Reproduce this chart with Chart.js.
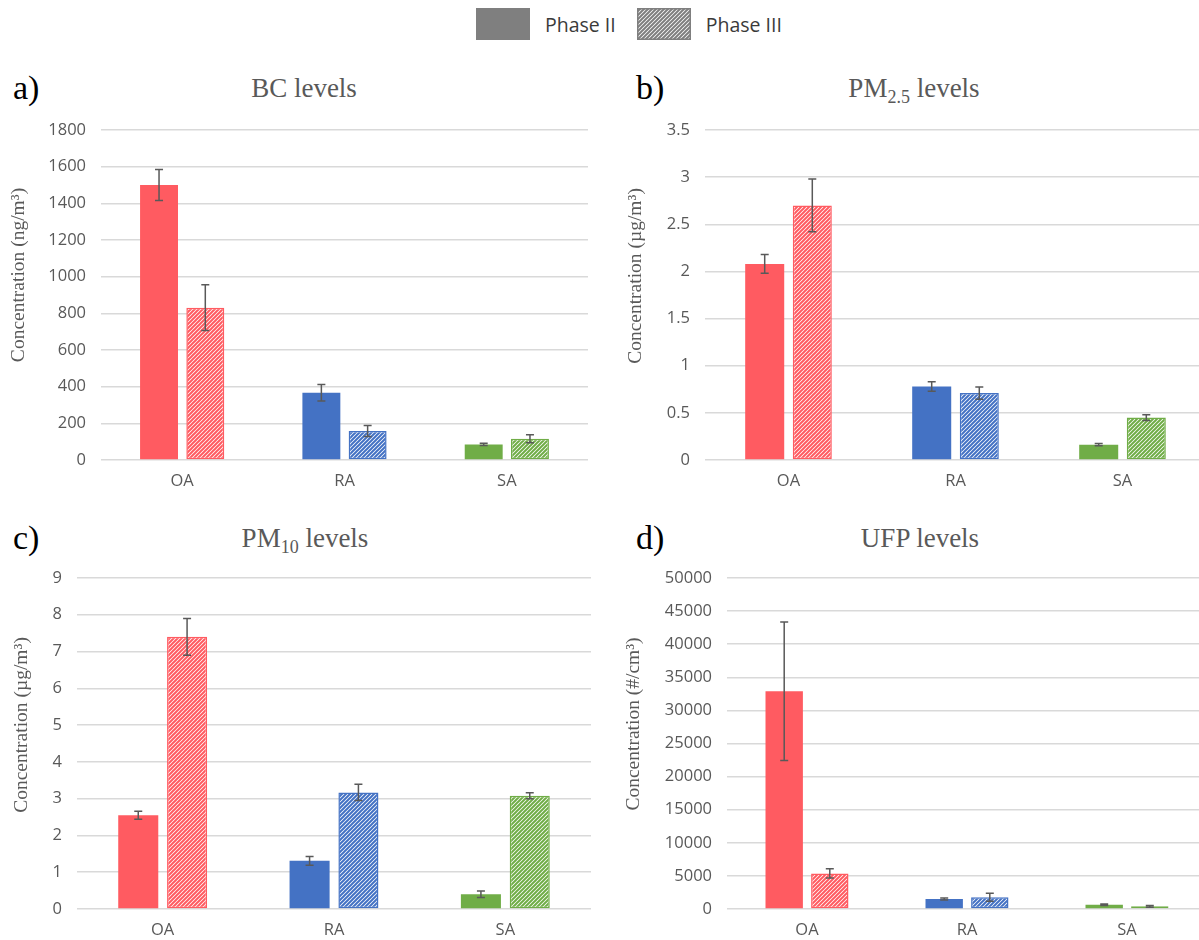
<!DOCTYPE html>
<html>
<head>
<meta charset="utf-8">
<script src="https://cdn.jsdelivr.net/npm/chart.js@4"></script>
<style>
  html, body { margin: 0; padding: 0; background: #fff; }
  body { width: 1199px; height: 940px; position: relative; overflow: hidden; }
  canvas.panel { position: absolute; }
  .title { position: absolute; transform: translateX(-50%); font: 27px "Liberation Serif", serif; color: #595959; line-height: 32px; white-space: nowrap; }
  .title sub { font-size: 18px; vertical-align: -6px; line-height: 0; }
  .tag { position: absolute; font: 34px "Liberation Serif", serif; color: #000; line-height: 40px; }
  .legend { position: absolute; top: 8px; left: 476px; display: flex; align-items: center; font: 19.5px "Open Sans", sans-serif; color: #3a3a3a; }
  .legend span { margin: 0 21px 0 15px; }
</style>
</head>
<body>
<div class="legend">
  <canvas id="sw2" width="54" height="32"></canvas><span>Phase II</span>
  <canvas id="sw3" width="54" height="32"></canvas><span>Phase III</span>
</div>

<div class="tag" style="left:13px;top:68px">a)</div>
<div class="tag" style="left:636px;top:68px">b)</div>
<div class="tag" style="left:13px;top:518px">c)</div>
<div class="tag" style="left:636px;top:518px">d)</div>

<div class="title" style="left:304px;top:72px">BC levels</div>
<div class="title" style="left:914px;top:72px">PM<sub>2.5</sub> levels</div>
<div class="title" style="left:305px;top:522px">PM<sub>10</sub> levels</div>
<div class="title" style="left:920px;top:522px">UFP levels</div>

<canvas class="panel" id="bc" width="600" height="440" style="left:0;top:60px"></canvas>
<canvas class="panel" id="pm25" width="610" height="440" style="left:600px;top:60px"></canvas>
<canvas class="panel" id="pm10" width="600" height="440" style="left:0;top:500px"></canvas>
<canvas class="panel" id="ufp" width="610" height="440" style="left:600px;top:500px"></canvas>

<script>
const sites = ['OA', 'RA', 'SA']
const siteColors = ['#FF5B61', '#4472C4', '#70AD47']

// BC (ng/m3)
const bcPhase2 = [1500, 367, 85]
const bcPhase2Err = [85, 45, 6]
const bcPhase3 = [831, 158, 116]
const bcPhase3Err = [125, 30, 22]
const bcAxis = [0, 1800, 200]

// PM2.5 (ug/m3)
const pm25Phase2 = [2.08, 0.78, 0.163]
const pm25Phase2Err = [0.1, 0.05, 0.012]
const pm25Phase3 = [2.70, 0.71, 0.45]
const pm25Phase3Err = [0.28, 0.065, 0.03]
const pm25Axis = [0, 3.5, 0.5]

// PM10 (ug/m3)
const pm10Phase2 = [2.55, 1.31, 0.40]
const pm10Phase2Err = [0.11, 0.12, 0.09]
const pm10Phase3 = [7.40, 3.17, 3.08]
const pm10Phase3Err = [0.5, 0.22, 0.08]
const pm10Axis = [0, 9, 1]

// UFP (#/cm3)
const ufpPhase2 = [32900, 1510, 650]
const ufpPhase2Err = [10450, 150, 120]
const ufpPhase3 = [5380, 1770, 400]
const ufpPhase3Err = [700, 600, 120]
const ufpAxis = [0, 50000, 5000]

function hatch(color) {
  const s = 4
  const c = document.createElement('canvas')
  c.width = s
  c.height = s
  const g = c.getContext('2d')
  g.fillStyle = '#fff'
  g.fillRect(0, 0, s, s)
  g.strokeStyle = color
  g.lineWidth = 2
  g.beginPath()
  g.moveTo(0, s); g.lineTo(s, 0)
  g.moveTo(-1, 1); g.lineTo(1, -1)
  g.moveTo(s - 1, s + 1); g.lineTo(s + 1, s - 1)
  g.stroke()
  return g.createPattern(c, 'repeat')
}

// legend swatches
const sw2 = document.getElementById('sw2').getContext('2d')
sw2.fillStyle = '#7F7F7F'
sw2.fillRect(0, 0, 54, 32)
const sw3 = document.getElementById('sw3').getContext('2d')
sw3.fillStyle = hatch('#7F7F7F')
sw3.fillRect(0, 0, 54, 32)
sw3.strokeStyle = '#7F7F7F'
sw3.lineWidth = 1.5
sw3.strokeRect(0.75, 0.75, 52.5, 30.5)

const errorBars = {
  id: 'errorBars',
  afterDatasetsDraw(chart) {
    const ctx = chart.ctx
    const y = chart.scales.y
    ctx.save()
    ctx.strokeStyle = '#595959'
    ctx.lineWidth = 1.5
    chart.data.datasets.forEach((ds, i) => {
      chart.getDatasetMeta(i).data.forEach((bar, j) => {
        const v = ds.data[j], e = ds.errors[j]
        const top = y.getPixelForValue(v + e)
        const bot = y.getPixelForValue(Math.max(v - e, 0))
        ctx.beginPath()
        ctx.moveTo(bar.x, top); ctx.lineTo(bar.x, bot)
        ctx.moveTo(bar.x - 4, top); ctx.lineTo(bar.x + 4, top)
        ctx.moveTo(bar.x - 4, bot); ctx.lineTo(bar.x + 4, bot)
        ctx.stroke()
      })
    })
    ctx.restore()
  }
}

const sideTitle = {
  id: 'sideTitle',
  afterDraw(chart, args, opts) {
    const ctx = chart.ctx
    ctx.save()
    ctx.translate(opts.x, opts.y)
    ctx.rotate(-Math.PI / 2)
    ctx.font = '19.5px "Liberation Serif"'
    ctx.fillStyle = '#595959'
    ctx.textAlign = 'center'
    ctx.textBaseline = 'middle'
    ctx.fillText(opts.text, 0, 0)
    ctx.restore()
  }
}

const tickFont = { family: 'Open Sans', size: 16.5 }

function panel(id, phase2, err2, phase3, err3, axis, unit, box) {
  new Chart(document.getElementById(id), {
    type: 'bar',
    data: {
      labels: sites,
      datasets: [{
        label: 'Phase II',
        data: phase2,
        errors: err2,
        backgroundColor: siteColors,
        borderWidth: 0,
        categoryPercentage: 0.57,
        barPercentage: 0.82
      }, {
        label: 'Phase III',
        data: phase3,
        errors: err3,
        backgroundColor: siteColors.map(hatch),
        borderColor: siteColors,
        borderWidth: 1.5,
        borderSkipped: false,
        categoryPercentage: 0.57,
        barPercentage: 0.82
      }]
    },
    options: {
      responsive: false,
      animation: false,
      layout: { padding: { top: box.top, right: box.right, left: 0, bottom: 0 } },
      plugins: {
        legend: { display: false },
        tooltip: { enabled: false },
        sideTitle: { text: 'Concentration (' + unit + ')', x: box.tx, y: box.ty }
      },
      scales: {
        x: {
          grid: { display: false, drawTicks: false },
          border: { display: false },
          ticks: { padding: 11, color: '#595959', font: tickFont },
          afterFit: s => { s.height = box.xh }
        },
        y: {
          min: axis[0],
          max: axis[1],
          ticks: {
            stepSize: axis[2],
            padding: 15,
            color: '#595959',
            font: tickFont,
            callback: v => String(Math.round(v * 100) / 100)
          },
          grid: { color: '#d9d9d9', lineWidth: 1.5, drawTicks: false },
          border: { display: false },
          afterFit: s => { s.width = box.yw }
        }
      }
    },
    plugins: [errorBars, sideTitle]
  })
}

panel('bc', bcPhase2, bcPhase2Err, bcPhase3, bcPhase3Err, bcAxis, 'ng/m³',
  { top: 70, right: 12, yw: 101, xh: 40, tx: 19, ty: 215 })
panel('pm25', pm25Phase2, pm25Phase2Err, pm25Phase3, pm25Phase3Err, pm25Axis, 'µg/m³',
  { top: 70, right: 4, yw: 105, xh: 40, tx: 36, ty: 216 })
panel('pm10', pm10Phase2, pm10Phase2Err, pm10Phase3, pm10Phase3Err, pm10Axis, 'µg/m³',
  { top: 78, right: 9, yw: 77, xh: 31, tx: 22, ty: 225 })
panel('ufp', ufpPhase2, ufpPhase2Err, ufpPhase3, ufpPhase3Err, ufpAxis, '#/cm³',
  { top: 78, right: 3, yw: 127, xh: 31, tx: 34, ty: 224 })
</script>
</body>
</html>
